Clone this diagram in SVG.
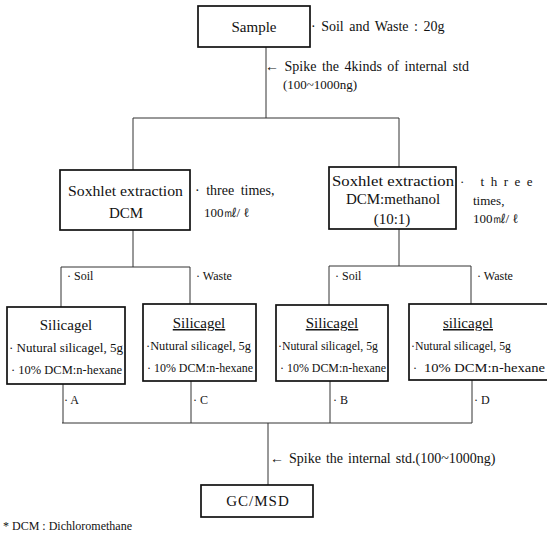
<svg xmlns="http://www.w3.org/2000/svg" width="547" height="536" viewBox="0 0 547 536">
<style>
.box{fill:#fff;stroke:#111;stroke-width:1.7}
.ln{fill:none;stroke:#333;stroke-width:1}
text{font-family:'Liberation Serif','Times New Roman',Tinos,Times,'DejaVu Serif',serif;fill:#111}
.t{font-size:15px}
.s{font-size:14px}
.r{font-size:13px}
.x{font-size:12px}
.m{text-anchor:middle}
.u{text-decoration:underline}
</style>
<rect width="547" height="536" fill="#fff"/>
<g id="connectors">
<line class="ln" x1="266" y1="47" x2="266" y2="118"/>
<line class="ln" x1="133" y1="118" x2="399" y2="118"/>
<line class="ln" x1="133" y1="118" x2="133" y2="170"/>
<line class="ln" x1="399" y1="118" x2="399" y2="167"/>
<line class="ln" x1="133" y1="230" x2="133" y2="267"/>
<line class="ln" x1="61" y1="267" x2="190" y2="267"/>
<line class="ln" x1="61" y1="267" x2="61" y2="307"/>
<line class="ln" x1="190" y1="267" x2="190" y2="304"/>
<line class="ln" x1="399" y1="229" x2="399" y2="266"/>
<line class="ln" x1="329" y1="266" x2="471" y2="266"/>
<line class="ln" x1="329" y1="266" x2="329" y2="305"/>
<line class="ln" x1="471" y1="266" x2="471" y2="304"/>
<line class="ln" x1="63" y1="384" x2="63" y2="423"/>
<line class="ln" x1="191" y1="381" x2="191" y2="423"/>
<line class="ln" x1="330" y1="381" x2="330" y2="423"/>
<line class="ln" x1="472" y1="380" x2="472" y2="423"/>
<line class="ln" x1="62" y1="423" x2="472" y2="423"/>
<line class="ln" x1="268" y1="423" x2="268" y2="485"/>
</g>
<g id="sample">
<rect class="box" x="198" y="6" width="112" height="41"/>
<text class="t m" x="254" y="32">Sample</text>
<text class="s" x="311" y="31" word-spacing="2">· Soil and Waste : 20g</text>
</g>
<g id="spike1">
<text class="s" x="265" y="71" word-spacing="2">← Spike the 4kinds of internal std</text>
<text class="r" x="283" y="89">(100~1000ng)</text>
</g>
<g id="soxhlet-dcm">
<rect class="box" x="60" y="170" width="130" height="60"/>
<text class="t" x="68" y="196" textLength="115" lengthAdjust="spacingAndGlyphs">Soxhlet extraction</text>
<text class="t m" x="126" y="218">DCM</text>
<text class="s" x="195" y="195" word-spacing="3">· three times,</text>
<text class="r" x="204" y="217">100㎖/ ℓ</text>
</g>
<g id="soxhlet-dcm-methanol">
<rect class="box" x="329" y="167" width="127" height="62"/>
<text class="t" x="332" y="186" textLength="122" lengthAdjust="spacingAndGlyphs">Soxhlet extraction</text>
<text class="t m" x="393" y="204">DCM:methanol</text>
<text class="t m" x="392" y="224">(10:1)</text>
<text class="r" x="460" y="186" letter-spacing="6.5">· three</text>
<text class="r" x="473" y="205">times,</text>
<text class="r" x="473" y="223">100㎖/ ℓ</text>
</g>
<g id="labels-split">
<text class="x" x="67" y="280">· Soil</text>
<text class="x" x="196" y="280">· Waste</text>
<text class="x" x="335" y="280">· Soil</text>
<text class="x" x="477" y="280">· Waste</text>
</g>
<g id="silicagel-a">
<rect class="box" x="7" y="307" width="118" height="77"/>
<text class="t m" x="66" y="330">Silicagel</text>
<text class="x" x="9" y="352" textLength="114" lengthAdjust="spacingAndGlyphs">· Nutural silicagel, 5g</text>
<text class="x" x="11" y="374" textLength="111" lengthAdjust="spacingAndGlyphs">· 10% DCM:n-hexane</text>
<text class="x" x="64" y="404">· A</text>
</g>
<g id="silicagel-c">
<rect class="box" x="143" y="304" width="113" height="77"/>
<text class="t m u" x="199" y="328">Silicagel</text>
<text class="x" x="146" y="350" textLength="105" lengthAdjust="spacingAndGlyphs">·Nutural silicagel, 5g</text>
<text class="x" x="147" y="372" textLength="106" lengthAdjust="spacingAndGlyphs">· 10% DCM:n-hexane</text>
<text class="x" x="193" y="404">· C</text>
</g>
<g id="silicagel-b">
<rect class="box" x="276" y="305" width="112" height="76"/>
<text class="t m u" x="332" y="328">Silicagel</text>
<text class="x" x="278" y="350" textLength="100" lengthAdjust="spacingAndGlyphs">·Nutural silicagel, 5g</text>
<text class="x" x="280" y="372" textLength="106" lengthAdjust="spacingAndGlyphs">· 10% DCM:n-hexane</text>
<text class="x" x="333" y="404">· B</text>
</g>
<g id="silicagel-d">
<rect class="box" x="409" y="304" width="141" height="76"/>
<text class="t m u" x="468" y="328">silicagel</text>
<text class="x" x="411" y="350" textLength="100" lengthAdjust="spacingAndGlyphs">·Nutural silicagel, 5g</text>
<text class="x" x="413" y="372">·</text>
<text class="x" x="424" y="372" textLength="121" lengthAdjust="spacingAndGlyphs">10% DCM:n-hexane</text>
<text class="x" x="474" y="404">· D</text>
</g>
<g id="spike2">
<text class="s" x="270" y="463" word-spacing="1.5">← Spike the internal std.(100~1000ng)</text>
</g>
<g id="gcmsd">
<rect class="box" x="201" y="485" width="112" height="32"/>
<text class="t m" x="258" y="506" letter-spacing="1">GC/MSD</text>
</g>
<g id="footnote">
<text class="x" x="3" y="530">* DCM : Dichloromethane</text>
</g>
</svg>
